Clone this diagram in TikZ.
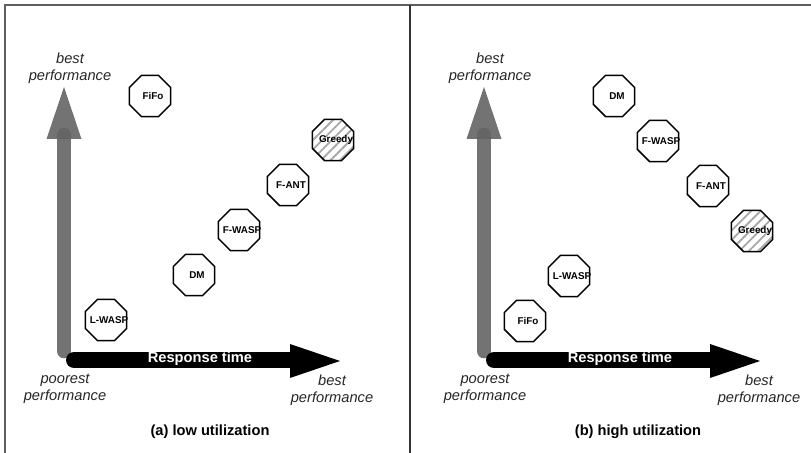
\documentclass[tikz,border=0pt]{standalone}
\usepackage{fontspec}
\setmainfont{Liberation Sans}
\usetikzlibrary{shapes.geometric,patterns.meta}
\definecolor{frame}{HTML}{5E5E5E}
\definecolor{upaxis}{HTML}{646464}
\definecolor{hatch}{HTML}{A8A8A8}
\newcommand{\octtext}[1]{\makebox[0pt]{\hspace{4.5pt}#1}}
\tikzset{
  policy/.style={regular polygon, regular polygon sides=8, draw=black, line width=1.15pt,
                 fill=white, minimum size=33.4pt, inner sep=0pt,
                 font=\fontsize{7.4}{8}\selectfont\bfseries},
  greedy/.style={policy, pattern={Lines[angle=45,distance=5pt,line width=1.4pt]},
                 pattern color=hatch},
  endlabel/.style={align=center, font=\fontsize{11}{12.5}\selectfont\itshape, text=black!85},
  caption/.style={font=\fontsize{11}{13}\selectfont\bfseries},
  upshaft/.style={draw=upaxis, line width=11pt, line cap=round, opacity=0.9},
  rightshaft/.style={draw=black, line width=12pt, line cap=round}
}
\begin{document}
\begin{tikzpicture}[x=0.75pt,y=0.75pt]
  \useasboundingbox (0,0) rectangle (811,453);
  % frame and divider
  \draw[frame, line width=1.5pt] (5,0) -- (5,447.5) -- (811,447.5);
  \draw[black!80, line width=1.2pt] (410,0) -- (410,447.5);
  % both axes, panel (b) moved right by 420
  \foreach \ox/\p in {0/a,420/b} {
    \begin{scope}[shift={(\ox,0)}]
      \coordinate (vlow\p) at (64,102);
      \coordinate (vtop\p) at (64,318);
      \coordinate (vtip\p) at (64,366);
      \coordinate (hlow\p) at (74,93);
      \coordinate (hend\p) at (291,93);
      \coordinate (htip\p) at (340,92);
      \draw[upshaft] (vlow\p) -- (vtop\p);
      \fill[upaxis, opacity=0.9] (46.5,314) -- (vtip\p) -- (81.5,314) -- cycle;
      \draw[rightshaft] (hlow\p) -- (hend\p);
      \fill[black] (290,109) -- (htip\p) -- (290,75) -- cycle;
      \node[font=\fontsize{11}{12}\selectfont\bfseries, text=white] (resp\p) at (200,94) {Response time};
      \node[endlabel] (best\p) at (70,385) {best\\performance};
      \node[endlabel] (poor\p) at (65,64) {poorest\\performance};
    \end{scope}
  }
  \node[endlabel] (farbesta) at (332,63) {best\\performance};
  \node[endlabel] (farbestb) at (759,63) {best\\performance};
  \node[caption] (capa) at (210,21) {(a) low utilization};
  \node[caption] (capb) at (638,21) {(b) high utilization};
  % (a) low utilization
  \node[policy] (fifoa) at (150,357) {\octtext{FiFo}};
  \node[greedy] (greedya) at (333,313) {\octtext{Greedy}};
  \node[policy] (fanta) at (288,268) {\octtext{F-ANT}};
  \node[policy] (fwaspa) at (239,223) {\octtext{F-WASP}};
  \node[policy] (dma) at (194,178) {\octtext{DM}};
  \node[policy] (lwaspa) at (106,133) {\octtext{L-WASP}};
  % (b) high utilization
  \node[policy] (dmb) at (614,357) {\octtext{DM}};
  \node[policy] (fwaspb) at (658,312) {\octtext{F-WASP}};
  \node[policy] (fantb) at (708,267) {\octtext{F-ANT}};
  \node[greedy] (greedyb) at (752,222) {\octtext{Greedy}};
  \node[policy] (lwaspb) at (569,177) {\octtext{L-WASP}};
  \node[policy] (fifob) at (525,132) {\octtext{FiFo}};
\end{tikzpicture}
\end{document}
